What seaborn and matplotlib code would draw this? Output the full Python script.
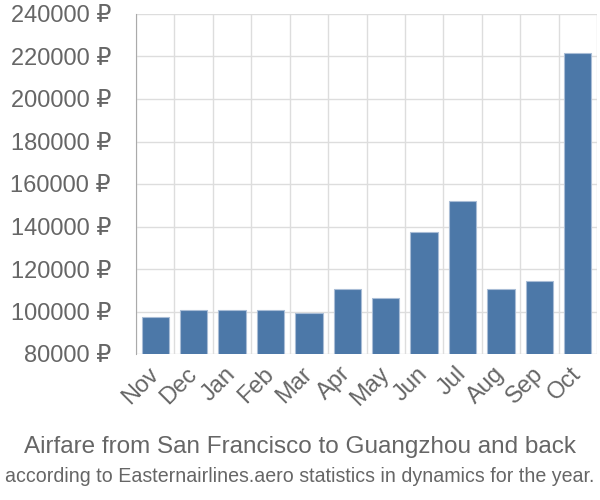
import matplotlib
matplotlib.use("Agg")
import matplotlib.pyplot as plt
import matplotlib.transforms as mtransforms
import seaborn as sns
import pandas as pd
import numpy as np

months = ["Nov", "Dec", "Jan", "Feb", "Mar", "Apr", "May", "Jun", "Jul", "Aug", "Sep", "Oct"]
prices = [97300, 100600, 100600, 100600, 99400, 110600, 106500, 137300, 151900, 110600, 114400, 221500]
yticks = [80000, 100000, 120000, 140000, 160000, 180000, 200000, 220000, 240000]
title = "Airfare from San Francisco to Guangzhou and back"
subtitle = "according to Easternairlines.aero statistics in dynamics for the year."

sns.set_style("white")
plt.rcParams['font.family'] = ['Liberation Sans', 'DejaVu Sans']

df = pd.DataFrame({"month": months, "price": prices})

fig = plt.figure(figsize=(6, 5), dpi=100)
ax = fig.add_axes([136/600, (500-354)/500, (597-136)/600, (354-14)/500])

sns.barplot(data=df, x="month", y="price", color="#4c78a8", width=0.71,
            edgecolor="#a9bdd6", linewidth=0.8, saturation=1, ax=ax, zorder=3)

ax.set_ylim(80000, 240000)
ax.set_xlim(-0.5, len(months) - 0.5)
ax.set_yticks(yticks)
ax.set_yticklabels([f"{v} ₽" for v in yticks], color="#666666", fontsize=17)
ax.set_xticks(range(len(months)))
ax.set_xticklabels(months, rotation=45, ha="right", va="center", rotation_mode="anchor",
                   color="#666666", fontsize=17)
offset = mtransforms.ScaledTranslation(4/100, 0, fig.dpi_scale_trans)
for lbl in ax.get_xticklabels():
    lbl.set_transform(lbl.get_transform() + offset)
ax.set_xticks(np.arange(-0.5, len(months)), minor=True)
ax.tick_params(axis="x", which="major", length=0, pad=12)
ax.tick_params(axis="x", which="minor", length=18, color="#dddddd", width=1)
ax.tick_params(axis="y", length=16, color="#dddddd", width=1, pad=2)
ax.grid(axis="y", color="#dddddd", linewidth=1, zorder=0)
ax.grid(axis="x", which="minor", color="#dddddd", linewidth=1, zorder=0)
ax.set_axisbelow(True)
ax.set_xlabel("")
ax.set_ylabel("")
for s in ["top", "right", "bottom"]:
    ax.spines[s].set_visible(False)
ax.spines["left"].set_color("#aaaaaa")
ax.spines["left"].set_bounds(80000, 240000)

fig.text(0.5, (500-447)/500, title, ha="center", va="center",
         fontsize=17.5, color="#666666")
fig.text(0.5, (500-476)/500, subtitle, ha="center", va="center",
         fontsize=14.1, color="#666666")

fig.savefig("out.png", dpi=100)
